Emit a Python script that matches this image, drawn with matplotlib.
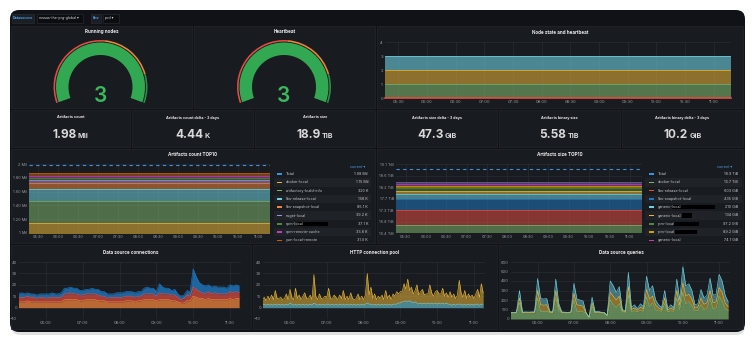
import numpy as np
import matplotlib
matplotlib.use("Agg")
import matplotlib.pyplot as plt
from matplotlib.patches import Rectangle, FancyBboxPatch, Wedge

plt.rcParams['font.family'] = ['Inter', 'DejaVu Sans']

# ---------------- data ----------------
datasource = "mssas-the-prg-global"
env = "prd"

gauge_titles = ["Running nodes", "Heartbeat"]
gauge_values = [3, 3]

node_state_title = "Node state and heartbeat"
node_state_values = [1, 1, 1]          # stacked: green, yellow, cyan
heartbeat_failed = 0

stat_titles = ["Artifacts count", "Artifacts count delta - 3 days", "Artifacts size",
               "Artifacts size delta - 3 days", "Artifacts binary size",
               "Artifacts binary delta - 3 days"]
stat_values = ["1.98", "4.44", "18.9", "47.3", "5.58", "10.2"]
stat_units = ["Mil", "K", "TiB", "GiB", "TiB", "GiB"]

count_names = ["docker-local", "artifactory-build-info", "libs-release-local",
               "libs-snapshot-local", "nuget-local", "npm-local", "npm-remote-cache",
               "yum-local-remote"]
count_values = [1.15e6, 320e3, 168e3, 85.1e3, 39.2e3, 37.1e3, 33.8e3, 31.0e3]
count_labels = ["1.15 Mil", "320 K", "168 K", "85.1 K", "39.2 K", "37.1 K", "33.8 K", "31.0 K"]
count_total = 1.98e6
count_total_label = "1.98 Mil"
count_yticks = [1.0e6, 1.2e6, 1.4e6, 1.6e6, 1.8e6, 2.0e6]
count_yticklabels = ["1 Mil", "1.20 Mil", "1.40 Mil", "1.60 Mil", "1.80 Mil", "2 Mil"]

size_names = ["docker-local", "libs-release-local", "libs-snapshot-local", "generic-local",
              "generic-local", "rpm-local", "rpm-local", "generic-local", "npm-local"]
size_values = [16.7, 0.589, 0.425, 0.205, 0.131, 0.095, 0.087, 0.072, 0.070]   # TiB
size_labels = ["16.7 TiB", "603 GiB", "435 GiB", "210 GiB", "134 GiB", "97.2 GiB",
               "89.2 GiB", "74.1 GiB", "71.6 GiB"]
size_total = 18.9
size_total_label = "18.9 TiB"
size_yticks = [16.37, 16.82, 17.28, 17.73, 18.19, 18.64, 19.10]
size_yticklabels = ["16.4 TiB", "16.8 TiB", "17.3 TiB", "17.7 TiB", "18.2 TiB", "18.6 TiB", "19.1 TiB"]

top_time_labels = ["05:30", "06:00", "06:30", "07:00", "07:30", "08:00",
                   "08:30", "09:00", "09:30", "10:00", "10:30", "11:00"]
bottom_time_labels = ["06:00", "07:00", "08:00", "09:00", "10:00", "11:00"]
time_start, time_end = "05:16", "11:18"

# Data source connections (5 min samples from 05:15), stacked layers
conn_start, conn_step = "05:15", 5
conn_orange = [5, 5, 5, 6, 5, 5, 5, 5, 5, 5, 5, 5, 5, 5, 5, 7, 7, 7, 7, 7, 6, 6, 7, 7, 7, 7, 6,
               6, 6, 5, 5, 5, 5, 5, 5, 6, 6, 6, 5, 6, 6, 7, 7, 7, 7, 6, 7, 7, 7, 7, 6, 6, 5, 4,
               4, 6, 6, 10, 9, 8, 8, 7, 8, 7, 7, 7, 7, 7, 7, 8, 7, 8, 8]
conn_red = [4, 4, 4, 4, 4, 4, 3, 4, 4, 3, 4, 4, 4, 4, 4, 5, 5, 6, 5, 5, 5, 5, 5, 5, 5, 5, 5,
            4, 4, 3, 4, 4, 4, 4, 4, 4, 4, 4, 4, 4, 4, 5, 5, 5, 5, 4, 6, 5, 5, 5, 5, 5, 4, 3,
            4, 5, 4, 8, 7, 6, 5, 5, 6, 5, 6, 5, 5, 5, 5, 6, 6, 6, 5]
conn_blue = [3, 4, 3, 3, 3, 3, 3, 3, 3, 4, 3, 4, 3, 3, 4, 5, 5, 5, 5, 5, 4, 4, 4, 4, 5, 4, 5,
             4, 4, 4, 3, 3, 4, 4, 4, 4, 4, 4, 4, 4, 4, 5, 6, 5, 5, 4, 8, 6, 5, 5, 4, 5, 3, 3,
             3, 4, 4, 16, 11, 8, 7, 7, 6, 6, 6, 6, 6, 6, 5, 6, 6, 6, 6]

# HTTP connection pool (3 min samples from 05:15), stacked layers
pool_start, pool_step = "05:15", 3
pool_idle = [2, 3, 2, 3, 2, 3, 2, 3, 2, 3, 2, 3, 2, 3, 2, 4, 3, 2, 3, 2, 3, 2, 3, 2, 3, 2, 3,
             2, 4, 3, 2, 3, 2, 3, 2, 3, 3, 2, 3, 2, 3, 2, 3, 2, 3, 2, 3, 2, 3, 2, 3, 2, 3, 2,
             3, 2, 3, 4, 3, 3, 2, 3, 2, 3, 2, 3, 2, 3, 2, 3, 2, 3, 3, 3, 4, 4, 5, 5, 6, 5, 6,
             5, 4, 5, 4, 3, 4, 3, 4, 3, 4, 3, 4, 3, 4, 3, 4, 3, 4, 3, 4, 3, 3, 2, 3, 2, 3, 3,
             3, 2, 3, 2, 3, 2, 3, 2, 3, 3, 2, 3, 3]
pool_active = [5, 6, 4, 7, 5, 8, 5, 12, 6, 5, 7, 4, 6, 9, 5, 12, 6, 5, 14, 6, 8, 5, 7, 11, 5,
               6, 8, 5, 25, 7, 5, 9, 6, 5, 8, 6, 14, 6, 5, 9, 6, 5, 8, 6, 12, 5, 7, 5, 10, 6,
               4, 6, 9, 5, 7, 5, 8, 26, 8, 15, 6, 9, 5, 7, 6, 8, 5, 12, 6, 8, 5, 9, 7, 11, 8,
               10, 9, 16, 10, 20, 9, 13, 8, 10, 16, 8, 10, 13, 7, 9, 8, 17, 9, 7, 10, 12, 8,
               9, 13, 7, 9, 6, 11, 7, 9, 6, 8, 21, 10, 7, 12, 6, 9, 7, 8, 6, 9, 13, 7, 18, 10]

# Data source queries (5 min samples from 05:15), stacked layers
query_start, query_step = "05:15", 5
query_green = [62, 62, 63, 170, 63, 65, 64, 65, 66, 220, 80, 80, 82, 68, 65, 230, 90, 65, 63,
               62, 64, 200, 80, 78, 75, 62, 16, 130, 65, 68, 63, 62, 34, 200, 150, 120, 160,
               75, 70, 250, 80, 85, 75, 90, 80, 230, 130, 170, 100, 85, 80, 160, 75, 85, 80,
               220, 100, 280, 160, 180, 140, 85, 90, 150, 100, 110, 220, 110, 115, 240, 190,
               110, 90]
query_yellow = [4, 4, 5, 50, 5, 5, 5, 5, 5, 80, 70, 65, 68, 6, 5, 70, 35, 5, 5, 4, 5, 70, 70,
                65, 60, 4, 2, 40, 5, 6, 5, 4, 3, 80, 90, 80, 80, 12, 8, 90, 20, 30, 18, 35, 25,
                80, 80, 70, 45, 30, 20, 60, 18, 30, 20, 80, 45, 100, 80, 80, 70, 30, 35, 70,
                55, 60, 80, 60, 65, 90, 90, 60, 40]
query_blue = [4, 4, 4, 80, 4, 5, 4, 5, 5, 125, 65, 65, 65, 6, 5, 120, 35, 5, 4, 4, 5, 105, 60,
              57, 55, 4, 2, 60, 5, 6, 4, 4, 3, 120, 110, 80, 100, 13, 7, 150, 20, 35, 17, 35,
              25, 140, 90, 110, 55, 35, 20, 80, 17, 35, 20, 120, 55, 170, 110, 110, 90, 35, 35,
              90, 65, 80, 130, 80, 80, 140, 120, 80, 50]

# ---------------- style ----------------
W, H = 755, 345
DARK = '#111217'
PANEL = '#181b1f'
BORDER = '#23262c'
TITLE = '#e6e7ea'
TICK = '#9a9ea6'
GRID = '#2a2d33'
GREEN = '#7EB26D'; YELLOW = '#EAB839'; CYAN = '#6ED0E0'; ORANGE = '#EF843C'
RED = '#E24D42'; BLUE = '#1F78C1'; PINK = '#BA43A9'; PURPLE = '#705DA0'
DGREEN = '#508642'; DYELLOW = '#CCA300'; TBLUE = '#3d8fe0'; LAV = '#a38fd6'
GAUGE_GREEN = '#33a853'


def tmin(s):
    h, m = s.split(":")
    return int(h) * 60 + int(m)


T0, T1 = tmin(time_start), tmin(time_end)

fig = plt.figure(figsize=(7.55, 3.45), dpi=100)
fig.patch.set_facecolor('white')
bg = fig.add_axes([0, 0, 1, 1])
bg.set_xlim(0, W)
bg.set_ylim(H, 0)
bg.axis('off')


def ax_px(x0, y0, x1, y1):
    return fig.add_axes([x0 / W, 1 - y1 / H, (x1 - x0) / W, (y1 - y0) / H])


bg.add_patch(FancyBboxPatch((11, 13), 734, 322, boxstyle="round,pad=0,rounding_size=9",
                            fc='#bdbdbd', ec='none', alpha=0.45))
bg.add_patch(FancyBboxPatch((10, 10), 735, 322, boxstyle="round,pad=0,rounding_size=9",
                            fc=DARK, ec='none'))

# top bar
def box(x0, y0, x1, y1, fc, ec='#2c3036'):
    bg.add_patch(Rectangle((x0, y0), x1 - x0, y1 - y0, fc=fc, ec=ec, lw=0.4))

box(12, 14, 34, 22.5, '#1b1e23')
bg.text(23, 18.3, "Datasource", fontsize=2.6, color='#4d9de8', ha='center', va='center', fontweight='bold')
box(37, 14, 83, 22.5, '#0c0d10')
bg.text(39, 18.3, datasource + " \u25be", fontsize=2.6, color='#d8d9da', ha='left', va='center')
box(91, 14, 101, 22.5, '#1b1e23')
bg.text(96, 18.3, "Env", fontsize=2.6, color='#4d9de8', ha='center', va='center', fontweight='bold')
box(103, 14, 119, 22.5, '#0c0d10')
bg.text(105, 18.3, env + " \u25be", fontsize=2.6, color='#d8d9da', ha='left', va='center')


def panel(x0, y0, x1, y1, title=None, ty=None, size=3.3, bold=True):
    bg.add_patch(Rectangle((x0, y0), x1 - x0, y1 - y0, fc=PANEL, ec=BORDER, lw=0.5))
    if title:
        bg.text((x0 + x1) / 2, ty, title, fontsize=size, color=TITLE, ha='center',
                va='center', fontweight='bold' if bold else 'normal')


# ---------------- gauges ----------------
gauge_panels = [(11, 26, 192, 108), (194, 26, 375, 108)]
gauge_centers = [(100.5, 87), (284, 87)]
for (x0, y0, x1, y1), (cx, cy), title, val in zip(gauge_panels, gauge_centers, gauge_titles, gauge_values):
    panel(x0, y0, x1, y1, title, 31.5)
    # visual angle a -> data angle -a (y axis inverted)
    bg.add_patch(Wedge((cx, cy), 44.5, -200, 20, width=12.5, fc=GAUGE_GREEN, ec='none'))
    bg.add_patch(Wedge((cx, cy), 47, -200, -85, width=1.6, fc=RED, ec='none'))
    bg.add_patch(Wedge((cx, cy), 47, -85, -16, width=1.6, fc=ORANGE, ec='none'))
    bg.add_patch(Wedge((cx, cy), 47, -16, 20, width=1.6, fc='#2f8f47', ec='none'))
    bg.text(cx, 101.5, str(val), fontsize=15, color='#3cb95c', ha='center', va='baseline',
            fontweight='semibold')


def style_ax(ax, tick_size=3.0):
    ax.set_facecolor('none')
    for s in ax.spines.values():
        s.set_visible(False)
    ax.tick_params(colors=TICK, labelsize=tick_size, length=0, pad=1.5)
    ax.grid(True, color=GRID, lw=0.45)
    ax.set_axisbelow(True)


def set_time(ax, labels):
    ax.set_xlim(T0, T1)
    ax.set_xticks([tmin(s) for s in labels])
    ax.set_xticklabels(labels)


# ---------------- node state ----------------
panel(377, 26, 743, 108, node_state_title, 32)
ax = ax_px(385, 42, 731, 98)
style_ax(ax)
set_time(ax, top_time_labels)
ax.set_ylim(0, 4)
ax.set_yticks([0, 1, 2, 3, 4])
xs = [T0, T1]
base = 0
for v, c, a in zip(node_state_values, [GREEN, YELLOW, CYAN], [0.6, 0.55, 0.6]):
    ax.fill_between(xs, base, base + v, color=c, alpha=a, lw=0)
    ax.plot(xs, [base + v] * 2, color=c, lw=0.5)
    base += v
ax.plot(xs, [heartbeat_failed] * 2, color=RED, lw=1.2, clip_on=False)

# ---------------- stats ----------------
renderer = fig.canvas.get_renderer()
stat_panels = [(11, 130), (132, 253), (255, 375), (377, 497), (499, 620), (622, 743)]
for (x0, x1), t, v, u in zip(stat_panels, stat_titles, stat_values, stat_units):
    panel(x0, 110, x1, 147, t, 117.5, size=2.7)
    cx = (x0 + x1) / 2
    t1 = bg.text(0, 138.5, v, fontsize=8.5, fontweight='bold', color='#d8d9da', va='baseline', ha='left')
    t2 = bg.text(0, 138.5, u, fontsize=5.2, fontweight='bold', color='#d8d9da', va='baseline', ha='left')
    w1 = t1.get_window_extent(renderer).width
    w2 = t2.get_window_extent(renderer).width
    gap = 1.5
    start = cx - (w1 + gap + w2) / 2
    t1.set_x(start)
    t2.set_x(start + w1 + gap)


# ---------------- TOP10 charts ----------------
def legend(x0, x1, y0, y1, rows, sw_x, name_x, val_x, redact):
    lax = ax_px(x0, y0, x1, y1)
    lax.set_xlim(x0, x1)
    lax.set_ylim(y1, y0)
    lax.axis('off')
    for k, (name, col, val) in enumerate(rows):
        y = 174 + 8.3 * k
        if k % 2 == 1:
            lax.add_patch(Rectangle((x0, y - 4.1), x1 - x0, 8.3, fc='#1f2227', ec='none'))
        lax.add_patch(Rectangle((sw_x, y - 0.8), 5, 1.6, fc=col, ec='none'))
        lax.text(name_x, y, name, fontsize=2.7, color='#c7c9cd', ha='left', va='center', clip_on=True)
        lax.text(val_x, y, val, fontsize=2.7, color='#c7c9cd', ha='right', va='center', clip_on=True)
        if k in redact:
            rx0, rx1 = redact[k]
            lax.add_patch(Rectangle((rx0, y - 2.2), rx1 - rx0, 4.4, fc='black', ec='none'))


# count
panel(11, 149, 375, 243, "Artifacts count TOP10", 154.5)
ax = ax_px(29, 164, 270, 233)
style_ax(ax, 2.8)
set_time(ax, top_time_labels)
ax.set_ylim(count_yticks[0], count_yticks[-1])
ax.set_yticks(count_yticks)
ax.set_yticklabels(count_yticklabels)
count_colors = [YELLOW, GREEN, CYAN, ORANGE, LAV, DGREEN, PINK, '#c15c17']
base = 0
for v, c in zip(count_values, count_colors):
    ax.fill_between(xs, base, base + v, color=c, alpha=0.55, lw=0)
    ax.plot(xs, [base + v] * 2, color=c, lw=0.5)
    base += v
ax.plot(xs, [count_total] * 2, color=TBLUE, lw=0.8, ls=(0, (3, 3)))
bg.text(358, 166.5, "current \u25be", fontsize=2.6, color='#4d9de8', ha='center', va='center')
rows = [("Total", TBLUE, count_total_label)] + list(zip(count_names, count_colors, count_labels))
legend(274, 371, 169, 242, rows, 277, 286, 368, {6: (298, 328)})

# size
panel(377, 149, 743, 243, "Artifacts size TOP10", 154.5)
ax = ax_px(396, 164, 642, 233)
style_ax(ax, 2.8)
set_time(ax, top_time_labels)
ax.set_ylim(size_yticks[0], size_yticks[-1])
ax.set_yticks(size_yticks)
ax.set_yticklabels(size_yticklabels)
size_colors = [GREEN, RED, BLUE, CYAN, YELLOW, DGREEN, DYELLOW, PINK, PURPLE]
base = 0
for v, c in zip(size_values, size_colors):
    ax.fill_between(xs, base, base + v, color=c, alpha=0.55, lw=0)
    ax.plot(xs, [base + v] * 2, color=c, lw=0.5)
    base += v
ax.plot(xs, [size_total] * 2, color=TBLUE, lw=0.8, ls=(0, (3, 3)))
bg.text(725, 166.5, "current \u25be", fontsize=2.6, color='#4d9de8', ha='center', va='center')
rows = [("Total", TBLUE, size_total_label)] + list(zip(size_names, size_colors, size_labels))
legend(645, 742, 169, 242, rows, 649, 658, 738,
       {4: (672, 715), 5: (682, 692), 6: (673, 699), 7: (675, 697)})


# ---------------- bottom charts ----------------
def stacked(ax, t, layers, colors, alphas):
    base = np.zeros(len(t))
    for vals, c, a in zip(layers, colors, alphas):
        top = base + np.asarray(vals, float)
        ax.fill_between(t, base, top, color=c, alpha=a, lw=0)
        ax.plot(t, top, color=c, lw=0.45)
        base = top


panel(11, 245, 251, 329, "Data source connections", 252.5)
ax = ax_px(19, 262, 241, 319)
style_ax(ax)
set_time(ax, bottom_time_labels)
ax.set_ylim(-10, 40)
ax.set_yticks([-10, 0, 10, 20, 30, 40])
t = tmin(conn_start) + conn_step * np.arange(len(conn_orange))
stacked(ax, t, [conn_orange, conn_red, conn_blue], [ORANGE, RED, BLUE], [0.75, 0.7, 0.8])

panel(253, 245, 497, 329, "HTTP connection pool", 252.5)
ax = ax_px(263, 262, 485, 319)
style_ax(ax)
set_time(ax, bottom_time_labels)
ax.set_ylim(-10, 40)
ax.set_yticks([-10, 0, 10, 20, 30, 40])
t = tmin(pool_start) + pool_step * np.arange(len(pool_idle))
stacked(ax, t, [pool_idle, pool_active], [CYAN, YELLOW], [0.6, 0.55])

panel(499, 245, 743, 329, "Data source queries", 252.5)
ax = ax_px(511, 262, 730, 319)
style_ax(ax)
set_time(ax, bottom_time_labels)
ax.set_ylim(0, 600)
ax.set_yticks([0, 100, 200, 300, 400, 500, 600])
t = tmin(query_start) + query_step * np.arange(len(query_green))
stacked(ax, t, [query_green, query_yellow, query_blue], [GREEN, YELLOW, CYAN], [0.7, 0.55, 0.5])

fig.savefig("out.png", dpi=100, facecolor='white')
